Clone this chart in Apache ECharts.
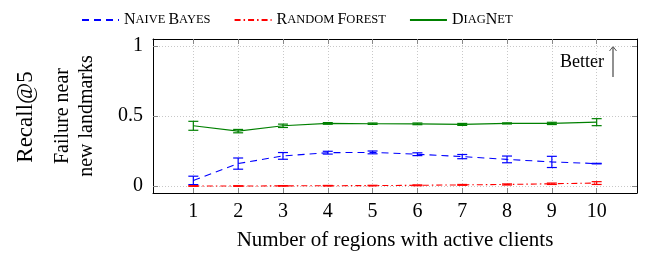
<!DOCTYPE html>
<html>
<head>
<meta charset="utf-8">
<script src="https://cdn.jsdelivr.net/npm/echarts@6/dist/echarts.min.js"></script>
<style>
  html, body { margin: 0; padding: 0; background: #fff; }
  #chart { width: 656px; height: 259px; }
</style>
</head>
<body>
<div id="chart"></div>
<script>
// Daten (Schätzwerte)
const regions = [1, 2, 3, 4, 5, 6, 7, 8, 9, 10];

const naiveBayes    = [0.04, 0.16, 0.215, 0.238, 0.24, 0.227, 0.21, 0.19, 0.172, 0.16];
const naiveBayesErr = [0.03, 0.04, 0.024, 0.01, 0.01, 0.01, 0.015, 0.024, 0.04, 0.002];

const randomForest    = [0.0, 0.0, 0.001, 0.002, 0.003, 0.005, 0.008, 0.011, 0.016, 0.021];
const randomForestErr = [0.002, 0.002, 0.002, 0.002, 0.002, 0.003, 0.003, 0.004, 0.005, 0.01];

const diagNet    = [0.43, 0.392, 0.43, 0.447, 0.445, 0.444, 0.44, 0.447, 0.447, 0.456];
const diagNetErr = [0.032, 0.012, 0.012, 0.006, 0.005, 0.006, 0.007, 0.004, 0.008, 0.025];

const yTicks = [0, 0.5, 1];

const SERIF = "'Liberation Serif', 'DejaVu Serif', serif";

const chart = echarts.init(document.getElementById('chart'));

// Fehlerbalken als custom series
function errorSeries(name, vals, errs, color) {
    return {
        name: name + ' err',
        type: 'custom',
        z: 3,
        data: regions.map((x, i) => [x, vals[i] - errs[i], vals[i] + errs[i]]),
        renderItem: function (params, api) {
            const lo = api.coord([api.value(0), api.value(1)]);
            const hi = api.coord([api.value(0), api.value(2)]);
            const w = 5;
            const style = { stroke: color, lineWidth: 1.2 };
            return {
                type: 'group',
                children: [
                    { type: 'line', shape: { x1: lo[0], y1: lo[1], x2: hi[0], y2: hi[1] }, style: style },
                    { type: 'line', shape: { x1: lo[0] - w, y1: lo[1], x2: lo[0] + w, y2: lo[1] }, style: style },
                    { type: 'line', shape: { x1: hi[0] - w, y1: hi[1], x2: hi[0] + w, y2: hi[1] }, style: style }
                ]
            };
        }
    };
}

function lineSeries(name, vals, color, dash) {
    return {
        name: name,
        type: 'line',
        data: regions.map((x, i) => [x, vals[i]]),
        symbol: 'none',
        z: 4,
        itemStyle: { color: color },
        lineStyle: { color: color, width: 1.1, type: dash }
    };
}

const option = {
    animation: false,
    grid: { left: 153, right: 19, top: 39, bottom: 66, show: false },
    legend: {
        data: ['Naive Bayes', 'Random Forest', 'DiagNet'],
        left: 76,
        top: 7,
        itemWidth: 37,
        itemHeight: 14,
        itemGap: 23,
        itemStyle: { opacity: 0 },
        formatter: function (name) {
            if (name === 'Naive Bayes') return '{c|N}{s|AIVE} {c|B}{s|AYES}';
            if (name === 'Random Forest') return '{c|R}{s|ANDOM} {c|F}{s|OREST}';
            return '{c|D}{s|IAG}{c|N}{s|ET}';
        },
        textStyle: {
            fontFamily: SERIF,
            color: '#000',
            rich: {
                c: { fontSize: 16, fontFamily: SERIF, color: '#000' },
                s: { fontSize: 12.5, fontFamily: SERIF, color: '#000' }
            }
        }
    },
    xAxis: [{
        type: 'value',
        min: 0.1,
        max: 10.9,
        name: 'Number of regions with active clients',
        nameLocation: 'middle',
        nameGap: 37,
        nameTextStyle: { fontFamily: SERIF, fontSize: 21, color: '#000' },
        axisLine: { show: true, onZero: false, lineStyle: { color: '#000', width: 1 } },
        axisTick: { show: true, inside: true, length: 5, customValues: regions, lineStyle: { color: '#888' } },
        axisLabel: { customValues: regions, margin: 9, fontFamily: SERIF, fontSize: 20, color: '#000' },
        splitLine: { show: true, lineStyle: { color: '#c8c8c8', type: [1, 2], width: 1 } }
    }, {
        type: 'value',
        position: 'top',
        min: 0.1,
        max: 10.9,
        axisLine: { show: true, onZero: false, lineStyle: { color: '#000', width: 1 } },
        axisTick: { show: true, inside: true, length: 5, customValues: regions, lineStyle: { color: '#888' } },
        axisLabel: { show: false },
        splitLine: { show: false }
    }],
    yAxis: [{
        type: 'value',
        min: -0.05,
        max: 1.05,
        axisLine: { show: true, onZero: false, lineStyle: { color: '#000', width: 1 } },
        axisTick: { show: true, inside: true, length: 5, customValues: yTicks, lineStyle: { color: '#888' } },
        axisLabel: {
            customValues: yTicks,
            margin: 10,
            fontFamily: SERIF,
            fontSize: 20,
            color: '#000',
            formatter: v => String(v)
        },
        splitLine: { show: true, lineStyle: { color: '#c8c8c8', type: [1, 2], width: 1 } }
    }, {
        type: 'value',
        position: 'right',
        min: -0.05,
        max: 1.05,
        axisLine: { show: true, onZero: false, lineStyle: { color: '#000', width: 1 } },
        axisTick: { show: true, inside: true, length: 5, customValues: yTicks, lineStyle: { color: '#888' } },
        axisLabel: { show: false },
        splitLine: { show: false }
    }],
    graphic: [
        {
            type: 'text', x: 26, y: 117, rotation: Math.PI / 2,
            style: { text: 'Recall@5', fontFamily: SERIF, fontSize: 23, fill: '#000', align: 'center', verticalAlign: 'middle' }
        },
        {
            type: 'text', x: 75, y: 116, rotation: Math.PI / 2,
            style: { text: 'Failure near\nnew landmarks', fontFamily: SERIF, fontSize: 20, lineHeight: 24, fill: '#000', align: 'center', verticalAlign: 'middle' }
        },
        {
            type: 'text', x: 604, y: 62,
            style: { text: 'Better', fontFamily: SERIF, fontSize: 18, fill: '#000', align: 'right', verticalAlign: 'middle' }
        },
        {
            type: 'line', shape: { x1: 613, y1: 77, x2: 613, y2: 47 },
            style: { stroke: '#555', lineWidth: 1.3 }
        },
        {
            type: 'polyline', shape: { points: [[609.5, 51], [613, 46.5], [616.5, 51]] },
            style: { stroke: '#555', lineWidth: 1, fill: null }
        }
    ],
    series: [
        lineSeries('Naive Bayes', naiveBayes, '#0000ff', [7, 5]),
        lineSeries('Random Forest', randomForest, '#ff0000', [6, 3, 1.5, 3]),
        lineSeries('DiagNet', diagNet, '#008000', 'solid'),
        errorSeries('Naive Bayes', naiveBayes, naiveBayesErr, '#0000ff'),
        errorSeries('Random Forest', randomForest, randomForestErr, '#ff0000'),
        errorSeries('DiagNet', diagNet, diagNetErr, '#008000')
    ]
};

chart.setOption(option);
</script>
</body>
</html>
